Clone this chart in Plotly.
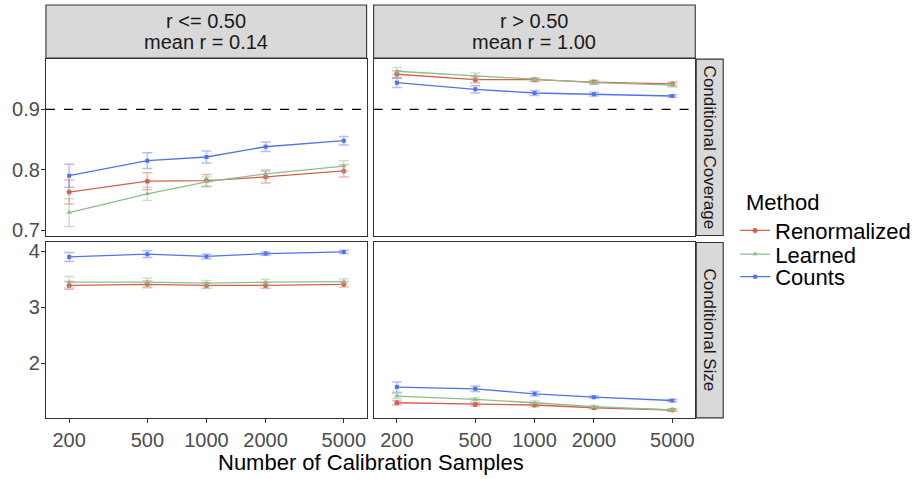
import plotly.graph_objects as go

# ---------------- data ----------------
samples = [200, 500, 1000, 2000, 5000]
methods = ["Renormalized", "Learned", "Counts"]

# Conditional coverage, r <= 0.50
cov_low = {
    "Renormalized": [0.763, 0.781, 0.782, 0.788, 0.798],
    "Learned":      [0.729, 0.760, 0.780, 0.793, 0.806],
    "Counts":       [0.790, 0.815, 0.821, 0.838, 0.848],
}
cov_low_err = {
    "Renormalized": [0.020, 0.014, 0.010, 0.010, 0.010],
    "Learned":      [0.023, 0.011, 0.008, 0.007, 0.009],
    "Counts":       [0.019, 0.013, 0.010, 0.008, 0.007],
}
# Conditional coverage, r > 0.50
cov_high = {
    "Renormalized": [0.958, 0.949, 0.949, 0.945, 0.942],
    "Learned":      [0.963, 0.955, 0.949, 0.944, 0.940],
    "Counts":       [0.944, 0.933, 0.927, 0.925, 0.922],
}
cov_high_err = {
    "Renormalized": [0.006, 0.005, 0.003, 0.003, 0.003],
    "Learned":      [0.006, 0.005, 0.003, 0.003, 0.003],
    "Counts":       [0.008, 0.006, 0.004, 0.003, 0.002],
}
# Conditional size, r <= 0.50
size_low = {
    "Renormalized": [3.39, 3.41, 3.39, 3.39, 3.41],
    "Learned":      [3.45, 3.45, 3.43, 3.45, 3.46],
    "Counts":       [3.90, 3.95, 3.91, 3.96, 3.99],
}
size_low_err = {
    "Renormalized": [0.07, 0.06, 0.05, 0.05, 0.05],
    "Learned":      [0.10, 0.07, 0.05, 0.05, 0.05],
    "Counts":       [0.08, 0.06, 0.04, 0.03, 0.03],
}
# Conditional size, r > 0.50
size_high = {
    "Renormalized": [1.29, 1.26, 1.25, 1.20, 1.16],
    "Learned":      [1.41, 1.35, 1.29, 1.22, 1.16],
    "Counts":       [1.57, 1.54, 1.45, 1.39, 1.33],
}
size_high_err = {
    "Renormalized": [0.04, 0.03, 0.03, 0.02, 0.02],
    "Learned":      [0.04, 0.03, 0.03, 0.02, 0.02],
    "Counts":       [0.09, 0.05, 0.04, 0.02, 0.02],
}

col_labels_1 = ["r <= 0.50", "r > 0.50"]
col_labels_2 = ["mean r = 0.14", "mean r = 1.00"]
row_labels = ["Conditional Coverage", "Conditional Size"]
target_coverage = 0.9
x_ticks = [200, 500, 1000, 2000, 5000]
cov_ticks = [0.7, 0.8, 0.9]
size_ticks = [2, 3, 4]

# ---------------- style ----------------
W, H = 916, 479
FONT = "Liberation Sans, Arial, sans-serif"
colors = {"Renormalized": "#D6604D", "Learned": "#8FBC8F", "Counts": "#5272F0"}
err_colors = {"Renormalized": "rgba(214,96,77,0.45)",
              "Learned": "rgba(143,188,143,0.45)",
              "Counts": "rgba(82,114,240,0.45)"}
symbols = {"Renormalized": "circle", "Learned": "triangle-up", "Counts": "square"}
msizes = {"Renormalized": 5, "Learned": 5, "Counts": 4}
legend_ids = {"Renormalized": "legend", "Learned": "legend2", "Counts": "legend3"}
legend_ypx = {"Renormalized": 232, "Learned": 256, "Counts": 279}

def px_x(p):
    return p / W

def px_y(p):
    return 1 - p / H

# panel pixel boxes
cols_px = [(46, 367), (374, 696)]
rows_px = [(58, 237), (244, 422)]
strip_top = (3, 57)
strip_right = (697, 724)

fig = go.Figure()

panels = [
    (cov_low, cov_low_err, 1),
    (cov_high, cov_high_err, 2),
    (size_low, size_low_err, 3),
    (size_high, size_high_err, 4),
]

for data, err, idx in panels:
    xa = "x" if idx == 1 else f"x{idx}"
    ya = "y" if idx == 1 else f"y{idx}"
    for m in methods:
        fig.add_trace(go.Scatter(
            x=samples, y=data[m], mode="lines+markers",
            name=m, legendgroup=m, showlegend=(idx == 1),
            legend=legend_ids[m],
            line=dict(color=colors[m], width=1.3),
            marker=dict(color=colors[m], symbol=symbols[m], size=msizes[m]),
            error_y=dict(type="data", array=err[m], color=err_colors[m],
                         thickness=1.5, width=5),
            xaxis=xa, yaxis=ya,
        ))

xr = [2.183, 3.815]
ranges_y = [[0.691, 0.983], [1.02, 4.16]]
ticks_y = [cov_ticks, size_ticks]

axis_common = dict(showgrid=False, zeroline=False, showline=True, mirror=True,
                   linecolor="#333333", linewidth=1.1,
                   tickfont=dict(family=FONT, size=20, color="#4D4D4D"))

layout = {}
for idx in range(1, 5):
    r = (idx - 1) // 2
    c = (idx - 1) % 2
    xk = "xaxis" if idx == 1 else f"xaxis{idx}"
    yk = "yaxis" if idx == 1 else f"yaxis{idx}"
    x0, x1 = cols_px[c]
    y0, y1 = rows_px[r]
    layout[xk] = dict(axis_common, type="log", range=xr,
                      domain=[px_x(x0), px_x(x1)],
                      anchor="y" if idx == 1 else f"y{idx}",
                      tickvals=x_ticks, ticktext=[str(v) for v in x_ticks],
                      showticklabels=(r == 1),
                      ticks="outside" if r == 1 else "",
                      ticklen=4, tickcolor="#333333")
    layout[yk] = dict(axis_common, range=ranges_y[r],
                      domain=[px_y(y1), px_y(y0)],
                      anchor="x" if idx == 1 else f"x{idx}",
                      tickvals=ticks_y[r],
                      showticklabels=(c == 0),
                      ticks="outside" if c == 0 else "",
                      ticklen=4, tickcolor="#333333",
                      ticklabelstandoff=-3)

fig.update_layout(**layout)

shapes = []
annotations = []
# dashed target line in coverage panels
for idx in (1, 2):
    xa = "x" if idx == 1 else f"x{idx}"
    ya = "y" if idx == 1 else f"y{idx}"
    shapes.append(dict(type="line", xref=f"{xa} domain", yref=ya,
                       x0=0, x1=1, y0=target_coverage, y1=target_coverage,
                       line=dict(color="black", width=1.2, dash="dash")))

# top strips
for c in range(2):
    x0, x1 = cols_px[c]
    shapes.append(dict(type="rect", xref="paper", yref="paper",
                       x0=px_x(x0), x1=px_x(x1),
                       y0=px_y(strip_top[1]), y1=px_y(strip_top[0]),
                       fillcolor="#D9D9D9", line=dict(color="#333333", width=1.1),
                       layer="below"))
    for lab, ypx in ((col_labels_1[c], 19), (col_labels_2[c], 41)):
        annotations.append(dict(xref="paper", yref="paper",
                                x=px_x((x0 + x1) / 2), y=px_y(ypx),
                                text=lab, showarrow=False,
                                font=dict(family=FONT, size=20, color="#1A1A1A"),
                                xanchor="center", yanchor="middle"))
# right strips
for r, lab in enumerate(row_labels):
    y0, y1 = rows_px[r]
    shapes.append(dict(type="rect", xref="paper", yref="paper",
                       x0=px_x(strip_right[0]), x1=px_x(strip_right[1]),
                       y0=px_y(y1), y1=px_y(y0),
                       fillcolor="#D9D9D9", line=dict(color="#333333", width=1.1),
                       layer="below"))
    annotations.append(dict(xref="paper", yref="paper",
                            x=px_x((strip_right[0] + strip_right[1]) / 2),
                            y=px_y((y0 + y1) / 2),
                            text=lab, showarrow=False, textangle=90,
                            font=dict(family=FONT, size=17, color="#1A1A1A"),
                            xanchor="center", yanchor="middle"))

# x axis title
annotations.append(dict(xref="paper", yref="paper",
                        x=px_x((46 + 696) / 2), y=px_y(467),
                        text="Number of Calibration Samples", showarrow=False,
                        font=dict(family=FONT, size=22, color="black"),
                        xanchor="center", yanchor="middle"))
# legend title
annotations.append(dict(xref="paper", yref="paper",
                        x=px_x(745), y=px_y(203),
                        text="Method", showarrow=False,
                        font=dict(family=FONT, size=22, color="black"),
                        xanchor="left", yanchor="middle"))

legend_style = dict(xanchor="left", yanchor="middle",
                    font=dict(family=FONT, size=22, color="black"),
                    bgcolor="rgba(0,0,0,0)", itemwidth=30)
legends = {}
for m in methods:
    legends[legend_ids[m]] = dict(legend_style, x=px_x(736), y=px_y(legend_ypx[m]))

fig.update_layout(
    width=W, height=H,
    margin=dict(l=0, r=0, t=0, b=0),
    paper_bgcolor="white", plot_bgcolor="white",
    shapes=shapes, annotations=annotations,
    font=dict(family=FONT),
    **legends,
)

fig.write_html("out.html")
